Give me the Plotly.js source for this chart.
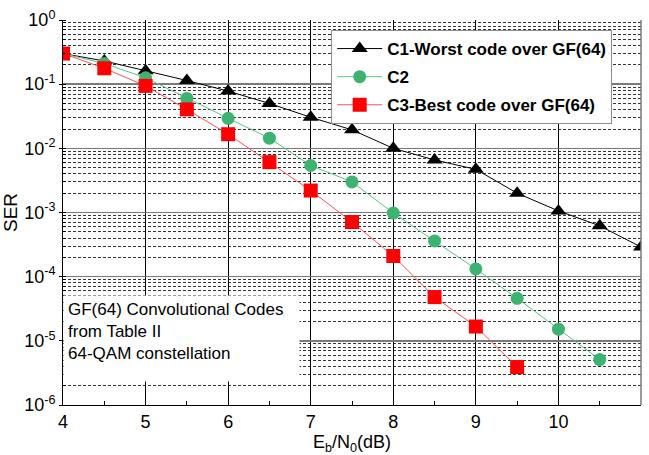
<!DOCTYPE html>
<html>
<head>
<meta charset="utf-8">
<script src="https://cdn.plot.ly/plotly-3.0.1.min.js"></script>
<style>html,body{margin:0;padding:0;background:#fff}#chart{width:649px;height:455px}</style>
</head>
<body>
<div id="chart"></div>
<script>
// Eb/N0 (dB)
const xC1 = [4, 4.5, 5, 5.5, 6, 6.5, 7, 7.5, 8, 8.5, 9, 9.5, 10, 10.5, 11];
const serC1 = [0.30, 0.23, 0.162, 0.114, 0.078, 0.050, 0.0305, 0.0194, 0.0100, 0.0066, 0.0047, 0.0020, 0.00106, 0.00062, 0.00029];
const xC2 = [4, 4.5, 5, 5.5, 6, 6.5, 7, 7.5, 8, 8.5, 9, 9.5, 10, 10.5];
const serC2 = [0.30, 0.21, 0.126, 0.060, 0.0294, 0.0144, 0.0054, 0.0030, 0.00098, 0.00036, 0.000132, 0.000046, 0.0000152, 0.0000051];
const xC3 = [4, 4.5, 5, 5.5, 6, 6.5, 7, 7.5, 8, 8.5, 9, 9.5];
const serC3 = [0.30, 0.177, 0.094, 0.0405, 0.0166, 0.0061, 0.0022, 0.00071, 0.00021, 0.000048, 0.0000167, 0.0000039];
const seriesNames = ['C1-Worst code over GF(64)', 'C2', 'C3-Best code over GF(64)'];
const yTickVals = [1, 0.1, 0.01, 0.001, 0.0001, 0.00001, 0.000001];
const yTickText = ['10<sup>0</sup>', '10<sup>-1</sup>', '10<sup>-2</sup>', '10<sup>-3</sup>', '10<sup>-4</sup>', '10<sup>-5</sup>', '10<sup>-6</sup>'];
const noteText = 'GF(64) Convolutional Codes<br>from Table II<br>64-QAM constellation';

const FONT = '"Liberation Sans", Arial, sans-serif';

const traces = [
  {x: xC1, y: serC1, name: seriesNames[0], legendgroup: 'a', mode: 'lines+markers',
   line: {color: '#000000', width: 1},
   marker: {symbol: 'triangle-up', size: 14, color: '#000000'}},
  {x: xC2, y: serC2, name: seriesNames[1], legendgroup: 'b', mode: 'lines+markers',
   line: {color: '#5cc48a', width: 1},
   marker: {symbol: 'circle', size: 13, color: '#3cb371'}},
  {x: xC3, y: serC3, name: seriesNames[2], legendgroup: 'c', mode: 'lines+markers',
   line: {color: '#ff5050', width: 1},
   marker: {symbol: 'square', size: 14, color: '#ff0000'}}
];

const layout = {
  width: 649, height: 455,
  margin: {l: 63, r: 8, t: 20, b: 50},
  paper_bgcolor: '#ffffff', plot_bgcolor: '#ffffff',
  font: {family: FONT, color: '#000000', size: 17},
  showlegend: true,
  legend: {
    x: 0.464, y: 0.974, xanchor: 'left', yanchor: 'top',
    bgcolor: '#ffffff', bordercolor: '#8c8c8c', borderwidth: 1,
    font: {family: FONT, size: 17, color: '#000000', weight: 'bold'},
    traceorder: 'grouped', tracegroupgap: 3, itemwidth: 45
  },
  xaxis: {
    range: [4, 11], dtick: 1, tick0: 4,
    showline: true, linecolor: '#000000', linewidth: 1,
    showgrid: true, gridcolor: '#000000', gridwidth: 1,
    ticks: 'inside', ticklen: 8, tickcolor: '#000000',
    minor: {dtick: 0.5, ticks: 'inside', ticklen: 4, tickcolor: '#000000', showgrid: false},
    tickfont: {family: FONT, size: 18},
    zeroline: false,
    title: {text: 'E<sub>b</sub>/N<sub>0</sub>(dB)', font: {family: FONT, size: 18}, standoff: 6}
  },
  yaxis: {
    type: 'log', range: [-6, 0],
    tickmode: 'array', tickvals: yTickVals, ticktext: yTickText,
    showline: true, linecolor: '#000000', linewidth: 1,
    showgrid: true, gridcolor: '#7a7a7a', gridwidth: 1.5,
    ticks: 'outside', ticklen: 3, tickcolor: '#000000',
    minor: {dtick: 'D1', showgrid: true, gridcolor: '#333333', gridwidth: 1, griddash: '3px,2px',
            ticks: 'inside', ticklen: 3, tickcolor: '#000000'},
    tickfont: {family: FONT, size: 18},
    zeroline: false,
    title: {text: 'SER', font: {family: FONT, size: 19}, standoff: 4}
  },
  shapes: [{
    type: 'line', xref: 'paper', yref: 'paper', x0: 1, x1: 1, y0: 0, y1: 1,
    line: {color: '#7a7a7a', width: 1.5}
  }],
  annotations: [{
    xref: 'paper', yref: 'paper', x: 0, y: 0.286, xanchor: 'left', yanchor: 'top',
    text: noteText, showarrow: false, align: 'left', valign: 'top',
    width: 227, height: 77, borderpad: 4,
    bgcolor: '#ffffff',
    font: {family: FONT, size: 17, color: '#000000'}
  }]
};

Plotly.newPlot('chart', traces, layout, {displayModeBar: false, staticPlot: true});
</script>
</body>
</html>
